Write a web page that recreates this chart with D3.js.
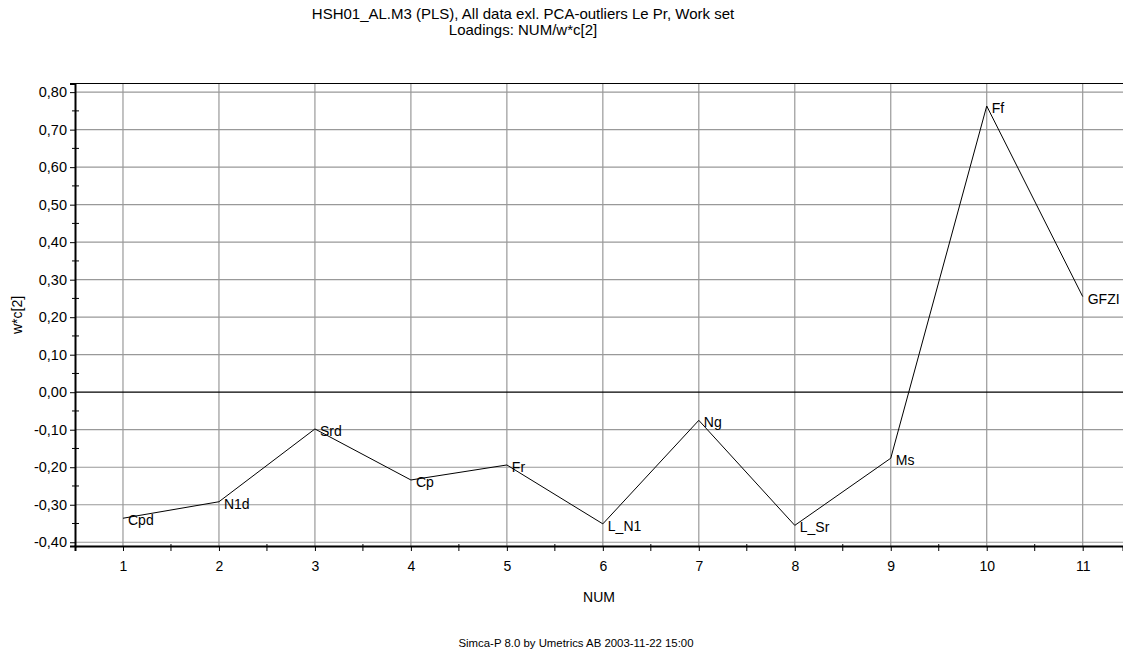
<!DOCTYPE html>
<html>
<head>
<meta charset="utf-8">
<script src="https://cdn.jsdelivr.net/npm/d3@7"></script>
<style>
  body { margin: 0; background: #fff; }
  text { font-family: "Liberation Sans", Arial, sans-serif; fill: #000; }
</style>
</head>
<body>
<div id="chart"></div>
<script>
// data
var nums = [1, 2, 3, 4, 5, 6, 7, 8, 9, 10, 11];
var names = ['Cpd', 'N1d', 'Srd', 'Cp', 'Fr', 'L_N1', 'Ng', 'L_Sr', 'Ms', 'Ff', 'GFZI'];
var loadings = [-0.336, -0.292, -0.098, -0.234, -0.194, -0.351, -0.075, -0.355, -0.176, 0.763, 0.255];
var yTicks = [-0.4, -0.3, -0.2, -0.1, 0, 0.1, 0.2, 0.3, 0.4, 0.5, 0.6, 0.7, 0.8];
var titleLines = ['HSH01_AL.M3 (PLS), All data exl. PCA-outliers Le Pr, Work set', 'Loadings: NUM/w*c[2]'];
var footer = 'Simca-P 8.0 by Umetrics AB 2003-11-22 15:00';

var W = 1123, H = 655;
var svg = d3.select("#chart")
  .append("svg")
    .attr("width", W)
    .attr("height", H);

var x = d3.scaleLinear().domain([0.5, 11.42]).range([75, 1123]);
var y = d3.scaleLinear().domain([-0.41, 0.823]).range([546, 83.5]);

var fmt = function(d) { return d3.format(".2f")(d).replace(".", ",").replace("−", "-"); };

// vertical grid
svg.append("g").selectAll("line")
  .data(nums).enter().append("line")
    .attr("x1", function(d) { return x(d) }).attr("x2", function(d) { return x(d) })
    .attr("y1", y.range()[1]).attr("y2", y.range()[0])
    .attr("stroke", "#999").attr("stroke-width", 1.2);

// horizontal grid, zero line in black
svg.append("g").selectAll("line")
  .data(yTicks).enter().append("line")
    .attr("x1", x.range()[0]).attr("x2", x.range()[1])
    .attr("y1", function(d) { return y(d) }).attr("y2", function(d) { return y(d) })
    .attr("stroke", function(d) { return d === 0 ? "#000" : "#999" })
    .attr("stroke-width", 1.2);

// top border
svg.append("line")
  .attr("x1", x.range()[0]).attr("x2", x.range()[1])
  .attr("y1", y.range()[1]).attr("y2", y.range()[1])
  .attr("stroke", "#000").attr("stroke-width", 1);

// y axis
var yAxis = d3.axisLeft(y).tickValues(yTicks).tickFormat(fmt).tickSize(5).tickPadding(3);
var gy = svg.append("g")
  .attr("transform", "translate(" + x.range()[0] + ",0)")
  .call(yAxis);
gy.select(".domain").attr("stroke", "#000").attr("stroke-width", 2);
gy.selectAll("text").style("font-size", "14.5px").style("font-family", "Liberation Sans, Arial, sans-serif");
// minor y ticks
gy.selectAll(".minor").data(d3.range(-0.35, 0.8, 0.1)).enter().append("line")
  .attr("class", "minor")
  .attr("x1", -3).attr("x2", 4)
  .attr("y1", function(d) { return y(d) }).attr("y2", function(d) { return y(d) })
  .attr("stroke", "#000");

// x axis
var xAxis = d3.axisBottom(x).tickValues(nums).tickFormat(d3.format("d")).tickSize(5).tickPadding(10);
var gx = svg.append("g")
  .attr("transform", "translate(0," + y.range()[0] + ")")
  .call(xAxis);
gx.select(".domain").attr("stroke", "#000").attr("stroke-width", 2);
gx.selectAll("text").style("font-size", "14px").style("font-family", "Liberation Sans, Arial, sans-serif");
gx.selectAll(".minor").data(d3.range(1.5, 11.5, 1)).enter().append("line")
  .attr("class", "minor")
  .attr("x1", function(d) { return x(d) }).attr("x2", function(d) { return x(d) })
  .attr("y1", -2).attr("y2", 5)
  .attr("stroke", "#000");

// the loading line
var line = d3.line()
  .x(function(d, i) { return x(nums[i]) })
  .y(function(d) { return y(d) });
svg.append("path")
  .datum(loadings)
  .attr("d", line)
  .attr("fill", "none")
  .attr("stroke", "#000")
  .attr("stroke-width", 1);

// point labels
svg.append("g").selectAll("text")
  .data(loadings).enter().append("text")
    .attr("x", function(d, i) { return x(nums[i]) + 5 })
    .attr("y", function(d) { return y(d) + 7 })
    .style("font-size", "14px")
    .text(function(d, i) { return names[i] });

// titles
svg.append("g").selectAll("text")
  .data(titleLines).enter().append("text")
    .attr("x", 523)
    .attr("y", function(d, i) { return 19 + i * 16 })
    .attr("text-anchor", "middle")
    .style("font-size", "15px")
    .text(function(d) { return d });

svg.append("text")
  .attr("x", 599).attr("y", 602)
  .attr("text-anchor", "middle")
  .style("font-size", "14px")
  .text("NUM");

svg.append("text")
  .attr("transform", "translate(22,315) rotate(-90)")
  .attr("text-anchor", "middle")
  .style("font-size", "14px")
  .text("w*c[2]");

svg.append("text")
  .attr("x", 576).attr("y", 647)
  .attr("text-anchor", "middle")
  .style("font-size", "11.4px")
  .text(footer);
</script>
</body>
</html>
